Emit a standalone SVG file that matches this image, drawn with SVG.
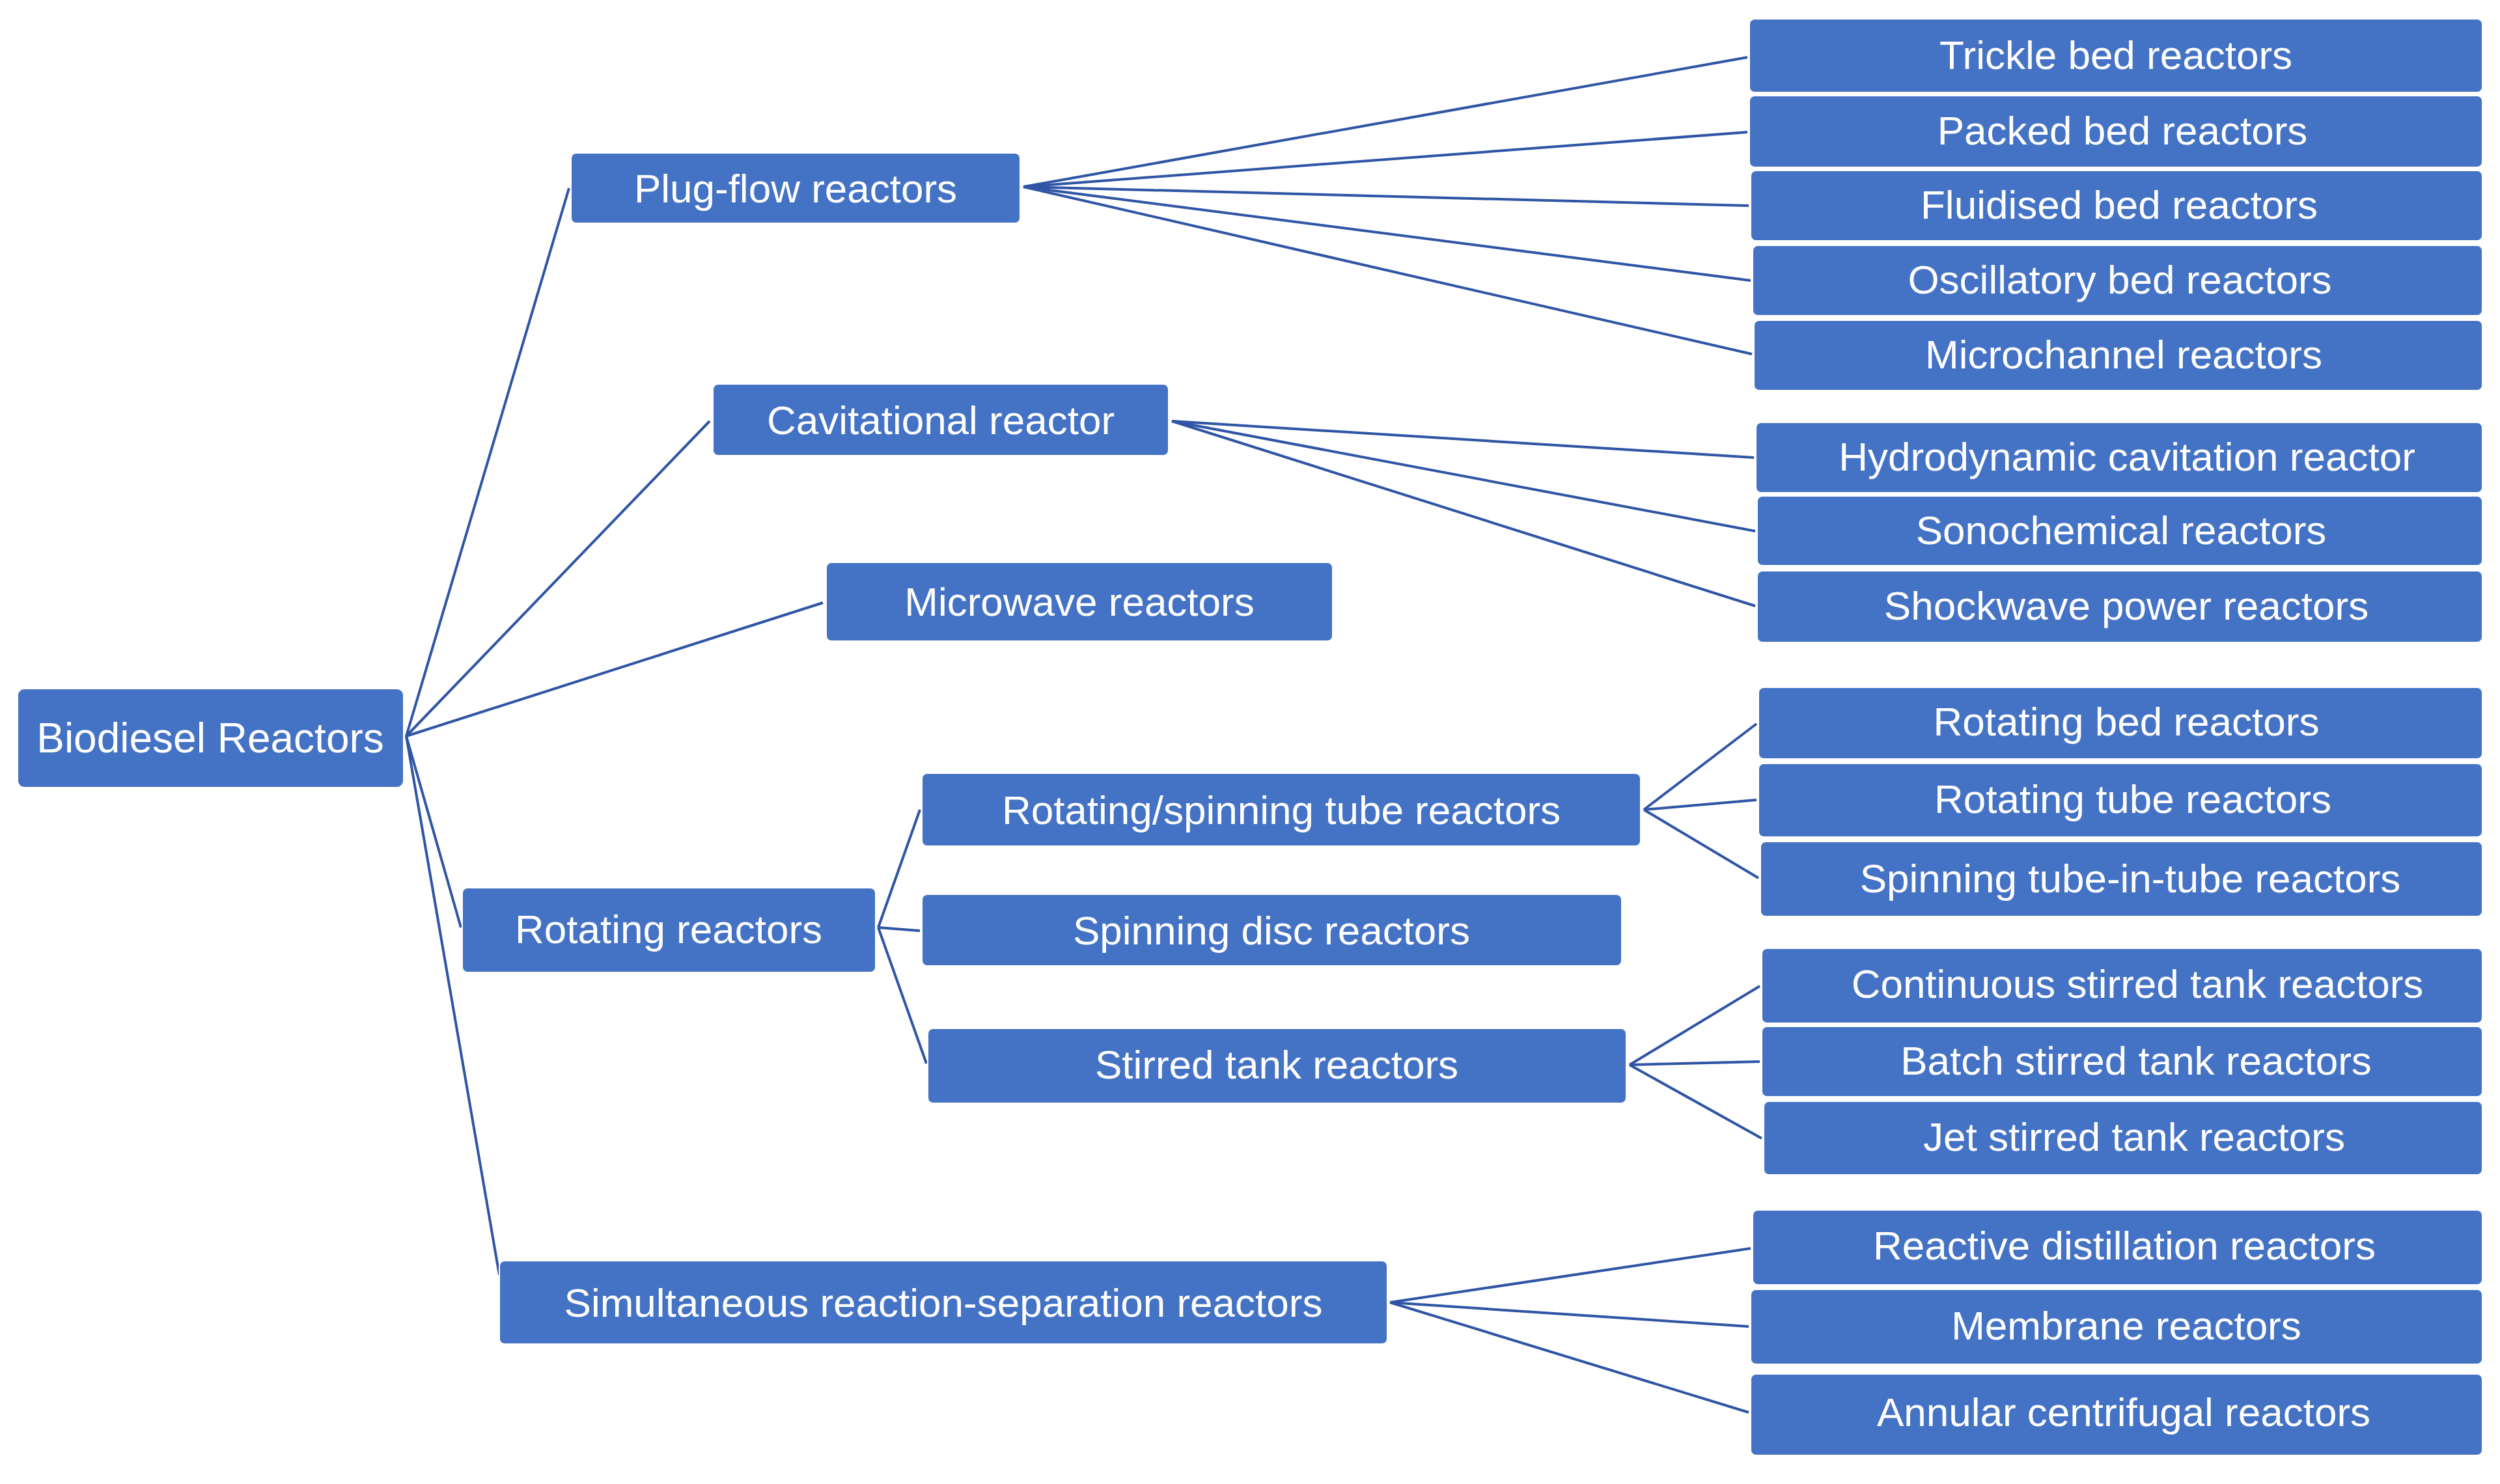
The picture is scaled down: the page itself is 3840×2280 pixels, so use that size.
<svg xmlns="http://www.w3.org/2000/svg" width="3840" height="2280" viewBox="0 0 3840 2280">
<style>
.b{fill:#4472C4;stroke:#ffffff;stroke-width:2}
.t{fill:#ffffff;font-family:"Liberation Sans",Arial,sans-serif;font-size:62px;text-anchor:middle;dominant-baseline:central}
.c line{stroke:#2F55A4;stroke-width:4}
</style>
<rect width="3840" height="2280" fill="#ffffff"/>
<g class="c" id="connectors">
<line x1="624" y1="1131" x2="874" y2="289"/>
<line x1="624" y1="1131" x2="1090" y2="647"/>
<line x1="624" y1="1131" x2="1264" y2="926"/>
<line x1="624" y1="1131" x2="708" y2="1425"/>
<line x1="624" y1="1131" x2="767" y2="1959"/>
<line x1="1572" y1="287" x2="2684" y2="88"/>
<line x1="1572" y1="287" x2="2684" y2="203"/>
<line x1="1572" y1="287" x2="2686" y2="316"/>
<line x1="1572" y1="287" x2="2689" y2="431"/>
<line x1="1572" y1="287" x2="2691" y2="544"/>
<line x1="1800" y1="647" x2="2694" y2="703"/>
<line x1="1800" y1="647" x2="2696" y2="816"/>
<line x1="1800" y1="647" x2="2696" y2="931"/>
<line x1="1349" y1="1425" x2="1413" y2="1244"/>
<line x1="1349" y1="1425" x2="1413" y2="1430"/>
<line x1="1349" y1="1425" x2="1423" y2="1634"/>
<line x1="2525" y1="1244" x2="2698" y2="1112"/>
<line x1="2525" y1="1244" x2="2698" y2="1229"/>
<line x1="2525" y1="1244" x2="2701" y2="1349"/>
<line x1="2503" y1="1636" x2="2703" y2="1515"/>
<line x1="2503" y1="1636" x2="2703" y2="1631"/>
<line x1="2503" y1="1636" x2="2706" y2="1749"/>
<line x1="2135" y1="2001" x2="2689" y2="1918"/>
<line x1="2135" y1="2001" x2="2686" y2="2038"/>
<line x1="2135" y1="2001" x2="2686" y2="2170"/>
</g>
<g id="root"><rect class="b" x="27" y="1058" width="593" height="152" rx="10"/><text class="t" x="323" y="1134" style="font-size:64px">Biodiesel Reactors</text></g>
<g id="plugflow"><rect class="b" x="877" y="235" width="690" height="108" rx="8"/><text class="t" x="1222" y="289">Plug-flow reactors</text></g>
<g id="cavitational"><rect class="b" x="1095" y="590" width="700" height="110" rx="8"/><text class="t" x="1445" y="645">Cavitational reactor</text></g>
<g id="microwave"><rect class="b" x="1269" y="864" width="778" height="121" rx="8"/><text class="t" x="1658" y="924">Microwave reactors</text></g>
<g id="rotating"><rect class="b" x="710" y="1364" width="635" height="130" rx="8"/><text class="t" x="1027" y="1427">Rotating reactors</text></g>
<g id="simultaneous"><rect class="b" x="767" y="1937" width="1364" height="128" rx="8"/><text class="t" x="1449" y="2001">Simultaneous reaction-separation reactors</text></g>
<g id="rotspin"><rect class="b" x="1416" y="1188" width="1104" height="112" rx="8"/><text class="t" x="1968" y="1244">Rotating/spinning tube reactors</text></g>
<g id="disc"><rect class="b" x="1416" y="1374" width="1075" height="110" rx="8"/><text class="t" x="1953" y="1429">Spinning disc reactors</text></g>
<g id="stirred"><rect class="b" x="1425" y="1580" width="1073" height="115" rx="8"/><text class="t" x="1961" y="1635">Stirred tank reactors</text></g>
<g id="trickle"><rect class="b" x="2687" y="29" width="1126" height="113" rx="8"/><text class="t" x="3250" y="84">Trickle bed reactors</text></g>
<g id="packed"><rect class="b" x="2687" y="147" width="1126" height="110" rx="8"/><text class="t" x="3260" y="200">Packed bed reactors</text></g>
<g id="fluidised"><rect class="b" x="2689" y="262" width="1124" height="108" rx="8"/><text class="t" x="3255" y="314">Fluidised bed reactors</text></g>
<g id="oscillatory"><rect class="b" x="2692" y="377" width="1121" height="108" rx="8"/><text class="t" x="3256" y="429">Oscillatory bed reactors</text></g>
<g id="microchannel"><rect class="b" x="2694" y="492" width="1119" height="108" rx="8"/><text class="t" x="3262" y="544">Microchannel reactors</text></g>
<g id="hydro"><rect class="b" x="2697" y="649" width="1116" height="108" rx="8"/><text class="t" x="3267" y="701">Hydrodynamic cavitation reactor</text></g>
<g id="sono"><rect class="b" x="2699" y="762" width="1114" height="107" rx="8"/><text class="t" x="3258" y="814">Sonochemical reactors</text></g>
<g id="shock"><rect class="b" x="2699" y="877" width="1114" height="110" rx="8"/><text class="t" x="3266" y="930">Shockwave power reactors</text></g>
<g id="rotbed"><rect class="b" x="2701" y="1056" width="1112" height="110" rx="8"/><text class="t" x="3266" y="1108">Rotating bed reactors</text></g>
<g id="rottube"><rect class="b" x="2701" y="1173" width="1112" height="113" rx="8"/><text class="t" x="3276" y="1227">Rotating tube reactors</text></g>
<g id="tubeintube"><rect class="b" x="2704" y="1293" width="1109" height="115" rx="8"/><text class="t" x="3272" y="1349">Spinning tube-in-tube reactors</text></g>
<g id="cstr"><rect class="b" x="2706" y="1457" width="1107" height="115" rx="8"/><text class="t" x="3283" y="1511">Continuous stirred tank reactors</text></g>
<g id="batch"><rect class="b" x="2706" y="1577" width="1107" height="108" rx="8"/><text class="t" x="3281" y="1629">Batch stirred tank reactors</text></g>
<g id="jet"><rect class="b" x="2709" y="1692" width="1104" height="113" rx="8"/><text class="t" x="3278" y="1746">Jet stirred tank reactors</text></g>
<g id="reactive"><rect class="b" x="2692" y="1859" width="1121" height="115" rx="8"/><text class="t" x="3263" y="1913">Reactive distillation reactors</text></g>
<g id="membrane"><rect class="b" x="2689" y="1981" width="1124" height="115" rx="8"/><text class="t" x="3266" y="2036">Membrane reactors</text></g>
<g id="annular"><rect class="b" x="2689" y="2111" width="1124" height="125" rx="8"/><text class="t" x="3262" y="2169">Annular centrifugal reactors</text></g>
</svg>
